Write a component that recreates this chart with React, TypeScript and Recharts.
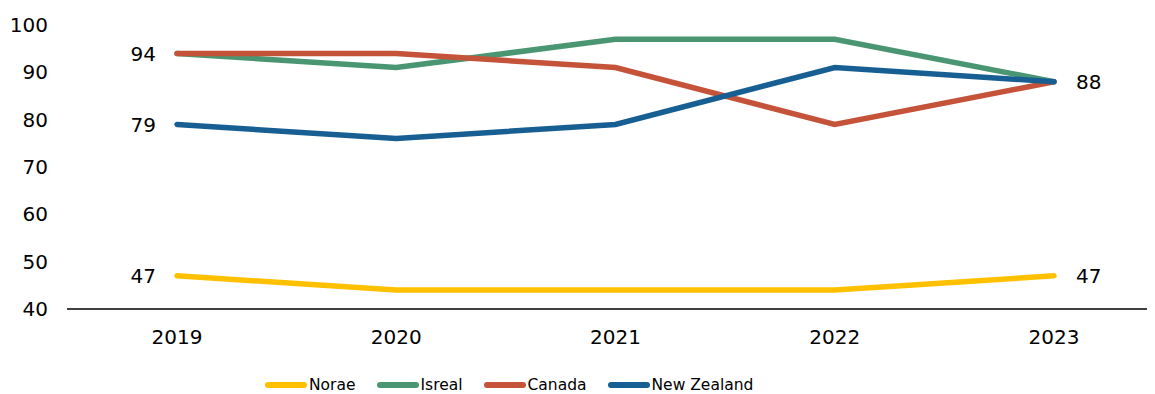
import React from "react";
import { LineChart, Line, XAxis, YAxis, Legend, LabelList } from "recharts";

const years = ["2019", "2020", "2021", "2022", "2023"];
const norae = [47, 44, 44, 44, 47];
const isreal = [94, 91, 97, 97, 88];
const canada = [94, 94, 91, 79, 88];
const newZealand = [79, 76, 79, 91, 88];
const yTicks = [40, 50, 60, 70, 80, 90, 100];

const seriesDefs = [
  { key: "Norae", color: "#FFC000" },
  { key: "Isreal", color: "#4A9672" },
  { key: "Canada", color: "#C5533A" },
  { key: "New Zealand", color: "#175F93" },
];

const data = years.map((y, i) => ({
  year: y,
  Norae: norae[i],
  Isreal: isreal[i],
  Canada: canada[i],
  "New Zealand": newZealand[i],
}));

const FONT = "'DejaVu Sans', sans-serif";

const makeLabel = (indices: number[]) => (props: any) => {
  const { x, y, value, index } = props;
  if (!indices.includes(index)) return null;
  const isFirst = index === 0;
  return (
    <text
      x={isFirst ? x - 21 : x + 22}
      y={y}
      dy="0.36em"
      textAnchor={isFirst ? "end" : "start"}
      fontSize={20}
      fontFamily={FONT}
      fill="#000"
    >
      {value}
    </text>
  );
};

const renderLegend = () => (
  <div
    style={{
      display: "flex",
      justifyContent: "flex-start",
      paddingLeft: 257,
      height: 18,
      alignItems: "center",
      fontFamily: FONT,
      fontSize: 15.5,
      color: "#000",
    }}
  >
    {seriesDefs.map((s) => (
      <div key={s.key} style={{ display: "flex", alignItems: "center", marginRight: 21 }}>
        <svg width={42} height={8} style={{ marginRight: 2 }}>
          <line x1={3} y1={4} x2={39} y2={4} stroke={s.color} strokeWidth={6} strokeLinecap="round" />
        </svg>
        <span>{s.key}</span>
      </div>
    ))}
  </div>
);

export default function App() {
  return (
    <div style={{ width: 1147, height: 386, overflow: "visible" }}>
      <LineChart
        width={1147}
        height={386}
        data={data}
        margin={{ top: 17, right: 0, bottom: 0, left: 0 }}
        style={{ background: "#fff", overflow: "visible" }}
      >
        <XAxis
          dataKey="year"
          height={67}
          padding={{ left: 110, right: 101 }}
          tickLine={false}
          tickSize={0}
          tickMargin={21}
          axisLine={{ stroke: "#000", strokeWidth: 1.5 }}
          tick={{ fill: "#000", fontSize: 20, fontFamily: FONT }}
        />
        <YAxis
          width={59}
          domain={[40, 100]}
          ticks={yTicks}
          axisLine={false}
          tickLine={false}
          tickSize={0}
          tickMargin={19}
          tick={{ fill: "#000", fontSize: 20, fontFamily: FONT }}
        />
        <Legend verticalAlign="bottom" height={18} content={renderLegend} />
        <Line dataKey="Norae" stroke="#FFC000" strokeWidth={5.5} dot={false} strokeLinecap="round" isAnimationActive={false}>
          <LabelList dataKey="Norae" content={makeLabel([0, 4])} />
        </Line>
        <Line dataKey="Isreal" stroke="#4A9672" strokeWidth={5.5} dot={false} strokeLinecap="round" isAnimationActive={false} />
        <Line dataKey="Canada" stroke="#C5533A" strokeWidth={5.5} dot={false} strokeLinecap="round" isAnimationActive={false}>
          <LabelList dataKey="Canada" content={makeLabel([0])} />
        </Line>
        <Line dataKey="New Zealand" stroke="#175F93" strokeWidth={5.5} dot={false} strokeLinecap="round" isAnimationActive={false}>
          <LabelList dataKey="New Zealand" content={makeLabel([0, 4])} />
        </Line>
      </LineChart>
    </div>
  );
}
